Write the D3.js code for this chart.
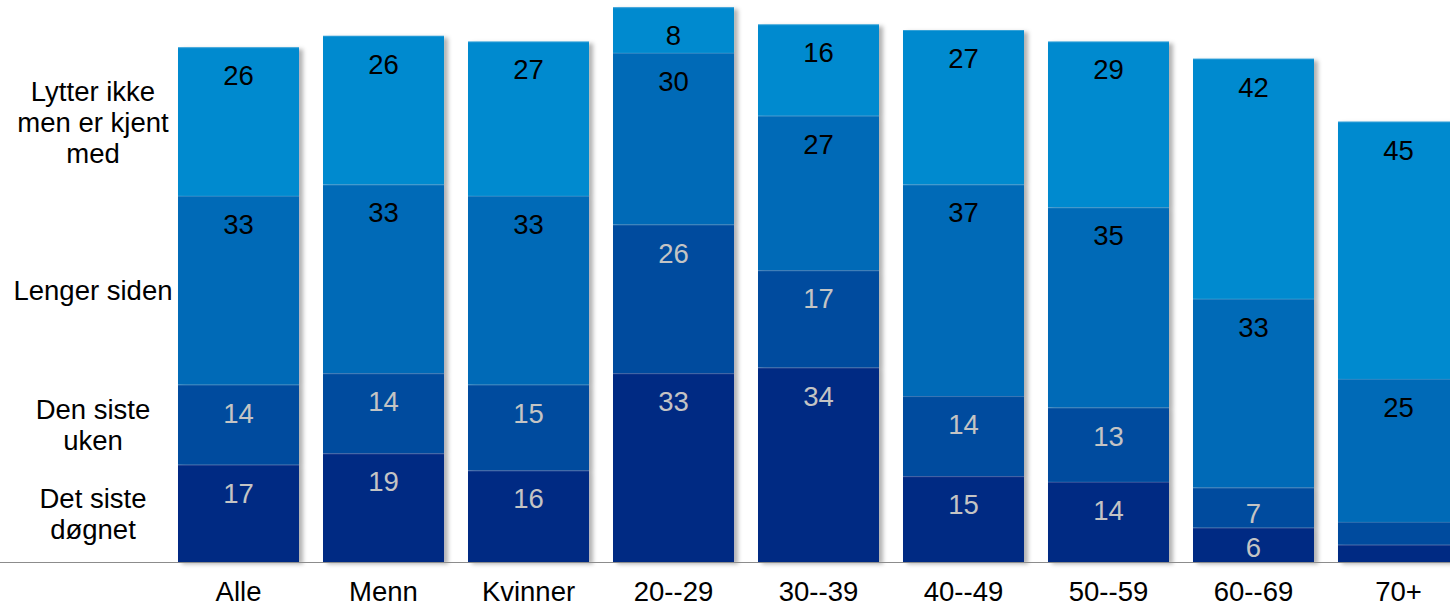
<!DOCTYPE html>
<html><head><meta charset="utf-8">
<script src="https://cdn.jsdelivr.net/npm/d3@7"></script>
<style>html,body{margin:0;padding:0;background:#fff;}svg{display:block;font-family:"Liberation Sans",Arial,sans-serif;}</style>
</head><body>
<svg id="chart" width="1450" height="607"></svg>
<script>
const categories = ["Alle","Menn","Kvinner","20--29","30--39","40--49","50--59","60--69","70+"];
const seriesNames = ["Det siste døgnet","Den siste uken","Lenger siden","Lytter ikke men er kjent med"];
const seriesLabelLines = [["Det siste","døgnet"],["Den siste","uken"],["Lenger siden"],["Lytter ikke","men er kjent","med"]];
const sisteDognet = [17,19,16,33,34,15,14,6,3];
const sisteUken   = [14,14,15,26,17,14,13,7,4];
const lengerSiden = [33,33,33,30,27,37,35,33,25];
const lytterIkke  = [26,26,27,8,16,27,29,42,45];
const colors = ["#052983","#014C9E","#006BB7","#028ACF"];
const labelColors = ["#C4C4C4","#C4C4C4","#000000","#000000"];

const seriesValues = [sisteDognet, sisteUken, lengerSiden, lytterIkke];
const rows = categories.map((c,i)=>{const r={cat:c}; seriesNames.forEach((s,j)=>r[s]=seriesValues[j][i]); return r;});
const stack = d3.stack().keys(seriesNames)(rows);
const FS = 27.5;

const svg = d3.select("#chart");
const defs = svg.append("defs");
const f = defs.append("filter").attr("id","sh").attr("x","-10%").attr("y","-10%").attr("width","130%").attr("height","130%");
f.append("feDropShadow").attr("dx",4).attr("dy",2).attr("stdDeviation",2).attr("flood-color","#000").attr("flood-opacity",0.3);

const x = d3.scaleBand().domain(categories).range([166,1471]).paddingInner(0.1655).paddingOuter(0.0828);
const y = d3.scaleLinear().domain([0,100]).range([562,-10]);

// bars with shadow
const barG = svg.append("g");
categories.forEach((c,i)=>{
  const g = barG.append("g").attr("filter","url(#sh)");
  stack.forEach((layer,j)=>{
    const d = layer[i];
    g.append("rect").attr("x",x(c)).attr("width",x.bandwidth())
      .attr("y",y(d[1])).attr("height",y(d[0])-y(d[1]))
      .attr("fill",colors[j]);
  });
  stack.forEach((layer,j)=>{
    const d = layer[i];
    g.append("line").attr("x1",x(c)).attr("x2",x(c)+x.bandwidth())
      .attr("y1",y(d[1])+0.5).attr("y2",y(d[1])+0.5)
      .attr("stroke","#ffffff").attr("stroke-opacity",0.18).attr("stroke-width",1);
  });
});

// value labels
stack.forEach((layer,j)=>{
  svg.append("g").selectAll("text").data(layer.filter(d=>d[1]-d[0]>=5)).join("text")
    .attr("x",d=>x(d.data.cat)+x.bandwidth()/2)
    .attr("y",d=>Math.min(y(d[1])+38, y(d[0])-5))
    .attr("text-anchor","middle").attr("font-size",FS)
    .attr("fill",labelColors[j])
    .text(d=>d[1]-d[0]);
});

// baseline axis
const xAxis = d3.axisBottom(x).tickSize(0).tickPadding(19);
const ax = svg.append("g").attr("transform",`translate(0,${y(0)})`).call(xAxis);
ax.select(".domain").remove();
ax.selectAll("text").attr("font-size",FS).attr("fill","#000").attr("font-family","Liberation Sans, Arial, sans-serif");
svg.append("line").attr("x1",0).attr("x2",1450).attr("y1",y(0)+0.5).attr("y2",y(0)+0.5).attr("stroke","#8c8c8c").attr("stroke-width",1);

// series labels on the left, centered on the first bar's segments
stack.forEach((layer,j)=>{
  const d = layer[0];
  const mid = (y(d[0])+y(d[1]))/2;
  const lines = seriesLabelLines[j];
  const t = svg.append("text").attr("text-anchor","middle").attr("font-size",FS).attr("fill","#000");
  lines.forEach((ln,k)=>{
    t.append("tspan").attr("x",93).attr("y",mid + (k-(lines.length-1)/2)*31 + 10).text(ln);
  });
});
</script>
</body></html>
